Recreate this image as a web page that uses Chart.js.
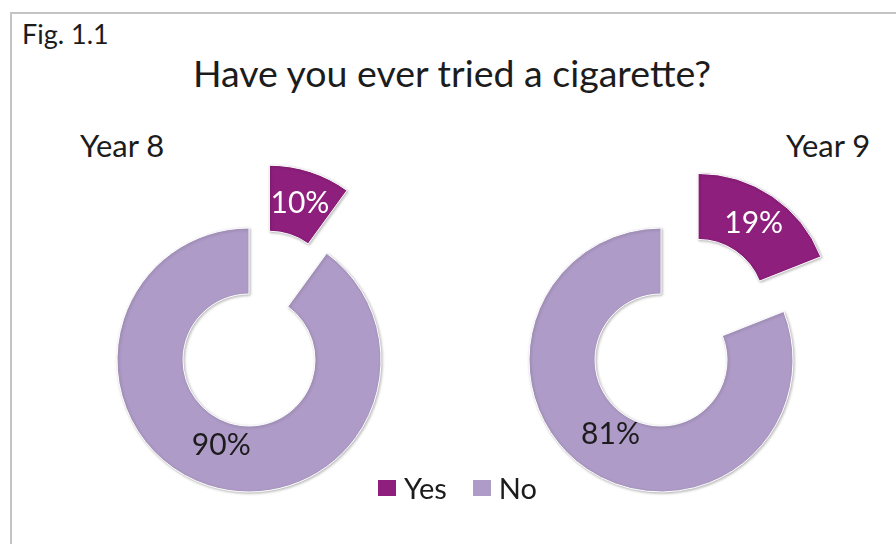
<!DOCTYPE html>
<html>
<head>
<meta charset="utf-8">
<script src="https://cdn.jsdelivr.net/npm/chart.js@4.4.1/dist/chart.umd.min.js"></script>
<style>
  body { margin: 0; width: 896px; height: 544px; overflow: hidden; background: #fff;
         position: relative; font-family: Lato, "Noto Sans", sans-serif; color: #1c1c1c; }
  #frame { position: absolute; left: 10px; top: 12px; width: 900px; height: 600px;
           border: 2px solid #c4c4c4; }
  .txt { position: absolute; white-space: nowrap; line-height: 1; }
  #fig { left: 22px; top: 20px; font-size: 27px; }
  #title { left: 452px; top: 54px; font-size: 37.5px; transform: translateX(-50%); }
  #lab0 { left: 80px; top: 130px; font-size: 31px; }
  #lab1 { left: 786px; top: 130px; font-size: 31px; }
  canvas { position: absolute; }
  #pie0 { left: 49px; top: 160px; }
  #pie1 { left: 461px; top: 160px; }
  #legend { position: absolute; left: 378px; top: 473px; display: flex; align-items: center;
            font-size: 29px; line-height: 1; }
  #legend .item { display: flex; align-items: center; margin-right: 26px; }
  #legend .box { width: 18px; height: 16px; margin-right: 8px; }
</style>
</head>
<body>
<div id="frame"></div>
<div class="txt" id="fig">Fig. 1.1</div>
<div class="txt" id="title">Have you ever tried a cigarette?</div>
<div class="txt" id="lab0"></div>
<div class="txt" id="lab1"></div>
<canvas id="pie0" width="400" height="400"></canvas>
<canvas id="pie1" width="400" height="400"></canvas>
<div id="legend"></div>
<script>
const categories = ['Yes', 'No'];
const groups = ['Year 8', 'Year 9'];
const year8 = [10, 90];
const year9 = [19, 81];
const colors = ['#8E1F7C', '#AE9BC7'];

// pulls the first slice out along its bisector and writes the percentages
const pieDecor = {
  id: 'pieDecor',
  beforeDatasetDraw(chart, args, opts) {
    const ctx = chart.ctx;
    args.meta.data.forEach((arc, i) => {
      const mid = (arc.startAngle + arc.endAngle) / 2;
      const d = i === opts.explodeIndex ? opts.distance : 0;
      ctx.save();
      ctx.translate(Math.cos(mid) * d, Math.sin(mid) * d);
      ctx.shadowColor = 'rgba(0,0,0,0.28)';
      ctx.shadowBlur = 3;
      ctx.shadowOffsetX = 1;
      ctx.shadowOffsetY = 1;
      arc.draw(ctx);
      ctx.restore();
    });
    return false;
  },
  afterDatasetsDraw(chart, args, opts) {
    const ctx = chart.ctx;
    const values = chart.data.datasets[0].data;
    ctx.save();
    ctx.font = opts.font;
    ctx.textAlign = 'center';
    ctx.textBaseline = 'middle';
    chart.getDatasetMeta(0).data.forEach((arc, i) => {
      const mid = (arc.startAngle + arc.endAngle) / 2;
      const d = i === opts.explodeIndex ? opts.distance : 0;
      const r = arc.innerRadius + (arc.outerRadius - arc.innerRadius) * opts.ratio[i] + d;
      ctx.fillStyle = opts.colors[i];
      ctx.fillText(values[i] + '%', arc.x + Math.cos(mid) * r, arc.y + Math.sin(mid) * r);
    });
    ctx.restore();
  }
};

function makePie(id, values) {
  return new Chart(document.getElementById(id), {
    type: 'doughnut',
    data: {
      labels: categories,
      datasets: [{
        data: values,
        backgroundColor: colors,
        borderColor: '#ffffff',
        borderWidth: 1
      }]
    },
    options: {
      responsive: false,
      animation: false,
      radius: 132,
      cutout: '50%',
      layout: { padding: 0 },
      plugins: {
        legend: { display: false },
        tooltip: { enabled: false },
        pieDecor: {
          explodeIndex: 0,
          distance: 66,
          ratio: [0.5, 0.36],
          colors: ['#ffffff', '#1c1c1c'],
          font: '30px Lato, "Noto Sans", sans-serif'
        }
      }
    },
    plugins: [pieDecor]
  });
}

makePie('pie0', year8);
makePie('pie1', year9);

document.getElementById('lab0').textContent = groups[0];
document.getElementById('lab1').textContent = groups[1];

const legend = document.getElementById('legend');
categories.forEach((c, i) => {
  const item = document.createElement('div');
  item.className = 'item';
  const box = document.createElement('div');
  box.className = 'box';
  box.style.background = colors[i];
  const t = document.createElement('span');
  t.textContent = c;
  item.appendChild(box);
  item.appendChild(t);
  legend.appendChild(item);
});
</script>
</body>
</html>
